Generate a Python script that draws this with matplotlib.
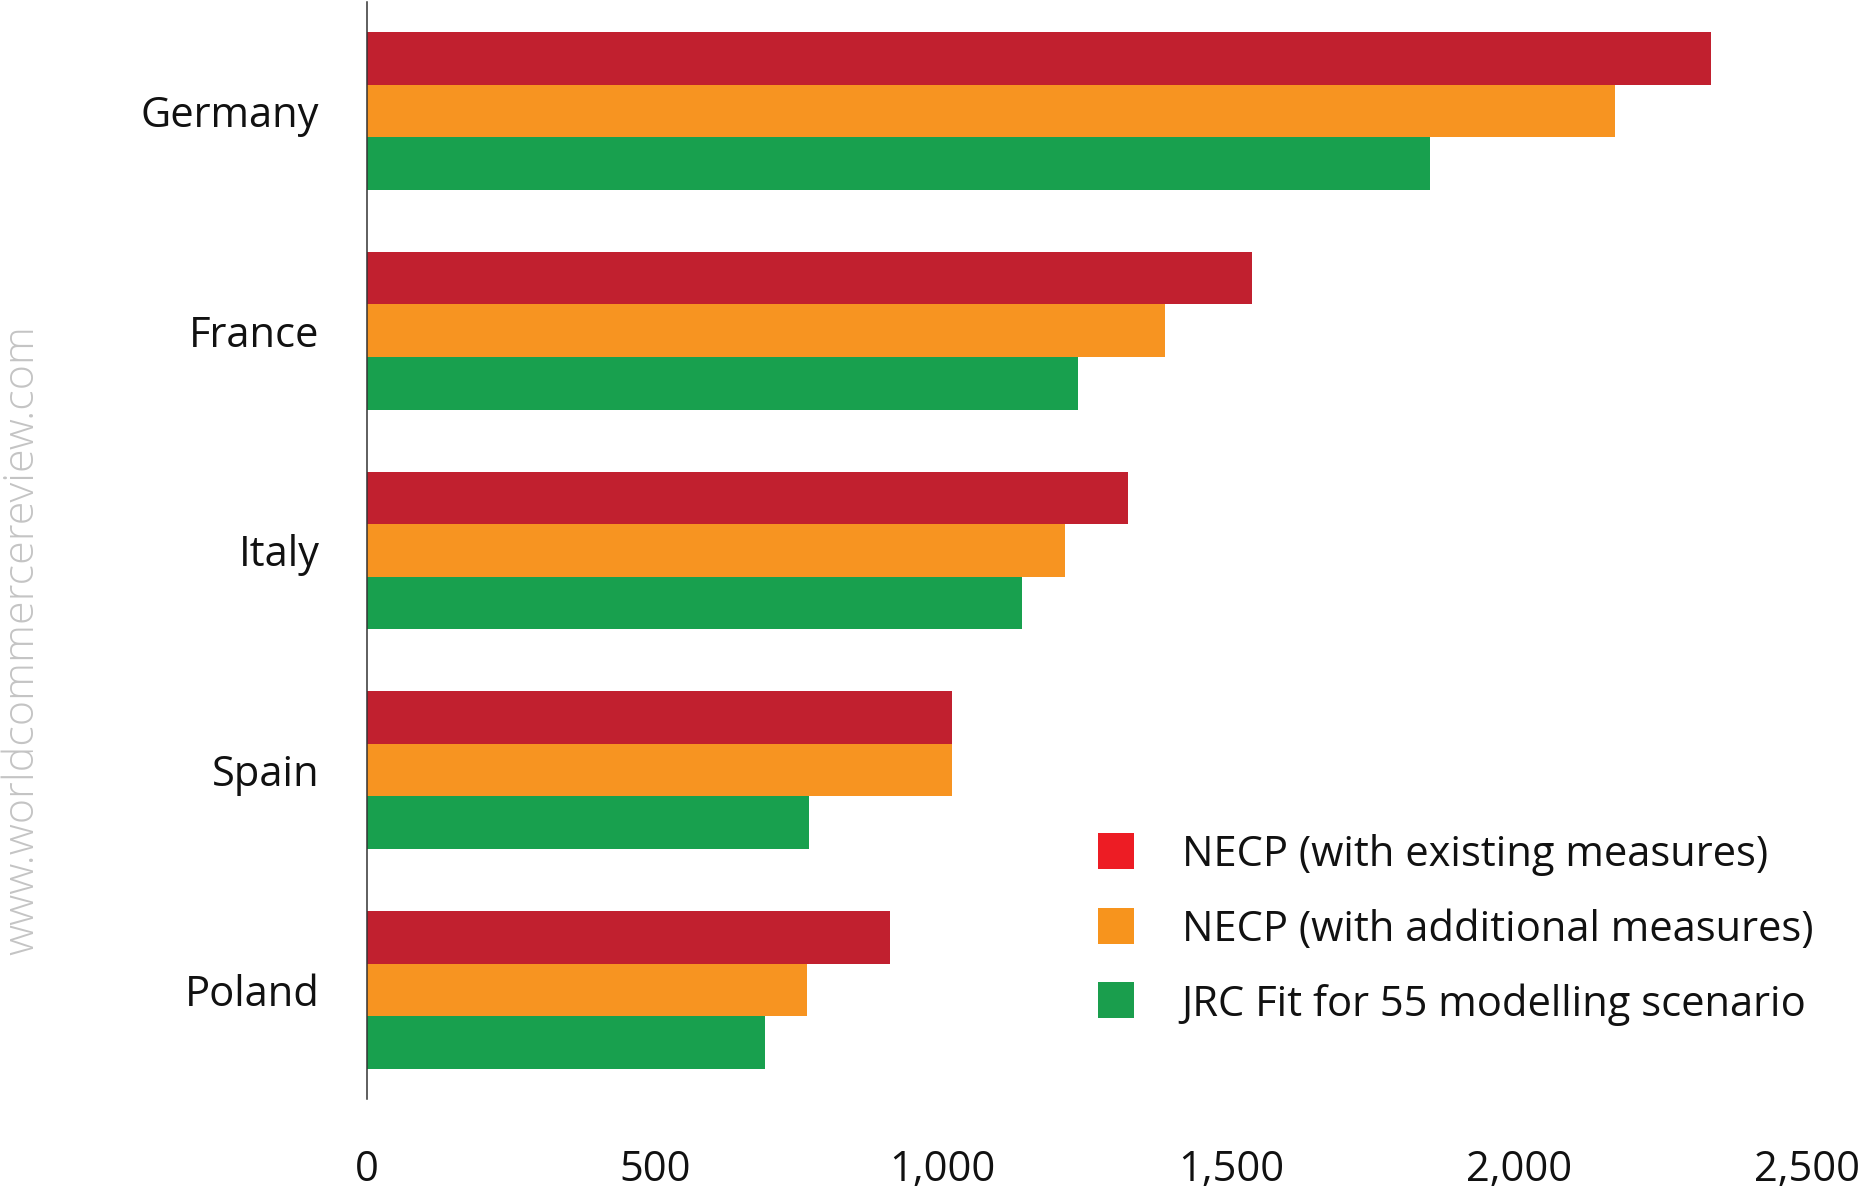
import matplotlib
matplotlib.use("Agg")
import matplotlib.pyplot as plt
from matplotlib.patches import Rectangle
import numpy as np

plt.rcParams['font.family'] = ['Open Sans', 'DejaVu Sans']

# Data
countries = ["Germany", "France", "Italy", "Spain", "Poland"]
series = ["NECP (with existing measures)",
          "NECP (with additional measures)",
          "JRC Fit for 55 modelling scenario"]
necp_existing = [2334, 1537, 1322, 1016, 909]
necp_additional = [2166, 1386, 1212, 1016, 764]
jrc_fit55 = [1846, 1234, 1137, 768, 692]
x_ticks = [0, 500, 1000, 1500, 2000, 2500]
x_tick_labels = ["0", "500", "1,000", "1,500", "2,000", "2,500"]

bar_colors = ["#C1202F", "#F79421", "#18A04E"]
legend_colors = ["#ED1C24", "#F7941D", "#1A9E4D"]

W, H = 1873, 1193
fig = plt.figure(figsize=(W / 100, H / 100), dpi=100)
fig.patch.set_facecolor("white")

ax_left, ax_right = 366.7, 1807.0
ax_top, ax_bottom = 2.5, 1099.0
ax = fig.add_axes([ax_left / W, 1 - ax_bottom / H,
                   (ax_right - ax_left) / W, (ax_bottom - ax_top) / H])

y = np.arange(len(countries))
h = 0.2394
for vals, off, col in zip([necp_existing, necp_additional, jrc_fit55],
                          [-h, 0.0, h], bar_colors):
    ax.barh(y + off, vals, height=h, color=col, linewidth=0)

ax.set_xlim(0, 2500)
ax.set_ylim(4.497, -0.494)

for s in ["top", "right", "bottom"]:
    ax.spines[s].set_visible(False)
ax.spines["left"].set_color("#333333")
ax.spines["left"].set_linewidth(1.1)

ax.set_yticks(y)
ax.set_yticklabels(countries, fontsize=30, color="#111111")
ax.set_xticks(x_ticks)
ax.set_xticklabels(x_tick_labels, fontsize=30, color="#111111")
ax.tick_params(axis="y", length=0, pad=34)
ax.tick_params(axis="x", length=0, pad=36)

# Legend drawn in pixel positions
sq = 36
for i, (lab, col) in enumerate(zip(series, legend_colors)):
    cy = 851 + 74.6 * i
    fig.patches.append(Rectangle((1098 / W, 1 - (cy + sq / 2) / H), sq / W, sq / H,
                                 transform=fig.transFigure, facecolor=col,
                                 edgecolor="none"))
    fig.text(1181.7 / W, 1 - (cy + 15.5) / H, lab, fontsize=30,
             color="#111111", ha="left", va="baseline")

# Watermark
fig.text(22 / W, 1 - 640 / H, "www.worldcommercereview.com", rotation=90,
         fontsize=31, fontweight="light", color="#C4C4C4",
         ha="center", va="center")

fig.savefig("out.png", dpi=100)
